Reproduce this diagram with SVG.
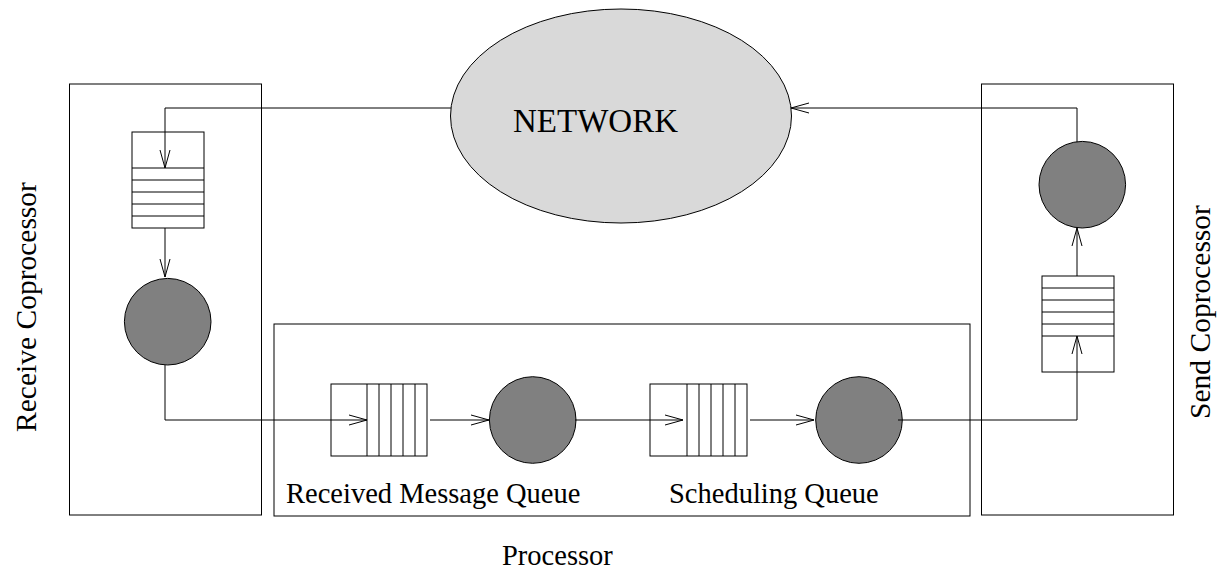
<svg xmlns="http://www.w3.org/2000/svg" width="1217" height="569" viewBox="0 0 1217 569">
  <style>
    .box { fill: none; stroke: #000; stroke-width: 1; }
    .queue { fill: #fff; stroke: #000; stroke-width: 1; }
    .slot { stroke: #000; stroke-width: 1; fill: none; }
    .server { fill: #808080; stroke: #000; stroke-width: 1; }
    .wire { fill: none; stroke: #000; stroke-width: 1; marker-end: url(#vhead); }
    .label { font-family: "Liberation Serif", "Times New Roman", serif; font-size: 28.5px; fill: #000; }
    .side { font-size: 29.5px; }
  </style>
  <defs>
    <marker id="vhead" markerUnits="userSpaceOnUse" markerWidth="24" markerHeight="14" viewBox="-20 -7 24 14" refX="0" refY="0" orient="auto">
      <path d="M-18,-5 L0,0 L-18,5" fill="none" stroke="#000" stroke-width="1"/>
    </marker>
  </defs>
  <rect width="1217" height="569" fill="#fff"/>

  <!-- enclosing units -->
  <g id="receive-coprocessor">
    <rect class="box" x="69.5" y="84" width="192" height="431"/>
    <text class="label side" transform="translate(36,307) rotate(-90)" text-anchor="middle">Receive Coprocessor</text>
  </g>
  <g id="processor">
    <rect class="box" x="274" y="324" width="696" height="192"/>
    <text class="label" x="502" y="565">Processor</text>
  </g>
  <g id="send-coprocessor">
    <rect class="box" x="981.5" y="84" width="192" height="431"/>
    <text class="label side" transform="translate(1210,312) rotate(-90)" text-anchor="middle">Send Coprocessor</text>
  </g>

  <!-- network cloud -->
  <g id="network">
    <ellipse cx="621" cy="116" rx="170.5" ry="107" fill="#d9d9d9" stroke="#000" stroke-width="1"/>
    <text x="513" y="132" font-family="Liberation Serif, Times New Roman, serif" font-size="33" fill="#000">NETWORK</text>
  </g>

  <!-- receive side -->
  <g id="receive-queue">
    <rect class="queue" x="132" y="132" width="72" height="96"/>
    <path class="slot" d="M132,168H204M132,180H204M132,192H204M132,204H204M132,216H204"/>
  </g>
  <g id="receive-server">
    <circle class="server" cx="167.7" cy="321.7" r="43.3"/>
  </g>

  <!-- processor queues and servers -->
  <g id="received-message-queue">
    <rect class="queue" x="331" y="384" width="96" height="72"/>
    <path class="slot" d="M367,384V456M379,384V456M391,384V456M403,384V456M415,384V456"/>
    <text class="label" x="286" y="503">Received Message Queue</text>
  </g>
  <g id="message-server">
    <circle class="server" cx="532.7" cy="420" r="43.3"/>
  </g>
  <g id="scheduling-queue">
    <rect class="queue" x="650" y="384" width="97" height="72"/>
    <path class="slot" d="M687,384V456M699,384V456M711,384V456M723,384V456M735,384V456"/>
    <text class="label" x="669" y="503">Scheduling Queue</text>
  </g>
  <g id="scheduling-server">
    <circle class="server" cx="859" cy="420" r="43.3"/>
  </g>

  <!-- send side -->
  <g id="send-queue">
    <rect class="queue" x="1042" y="276" width="72" height="96"/>
    <path class="slot" d="M1042,288H1114M1042,300H1114M1042,312H1114M1042,324H1114M1042,336H1114"/>
  </g>
  <g id="send-server">
    <circle class="server" cx="1082.3" cy="184.7" r="43.3"/>
  </g>

  <!-- message flow -->
  <g id="connectors">
    <path class="wire" d="M451,108H165V168"/>
    <path class="wire" d="M165,228V277"/>
    <path class="wire" d="M165,365V420H367"/>
    <path class="wire" d="M430,420H489"/>
    <path class="wire" d="M575,420H683"/>
    <path class="wire" d="M750,420H814"/>
    <path class="wire" d="M898,420H1077V336"/>
    <path class="wire" d="M1077,276V228"/>
    <path class="wire" d="M1077,142V108H791"/>
  </g>
</svg>
